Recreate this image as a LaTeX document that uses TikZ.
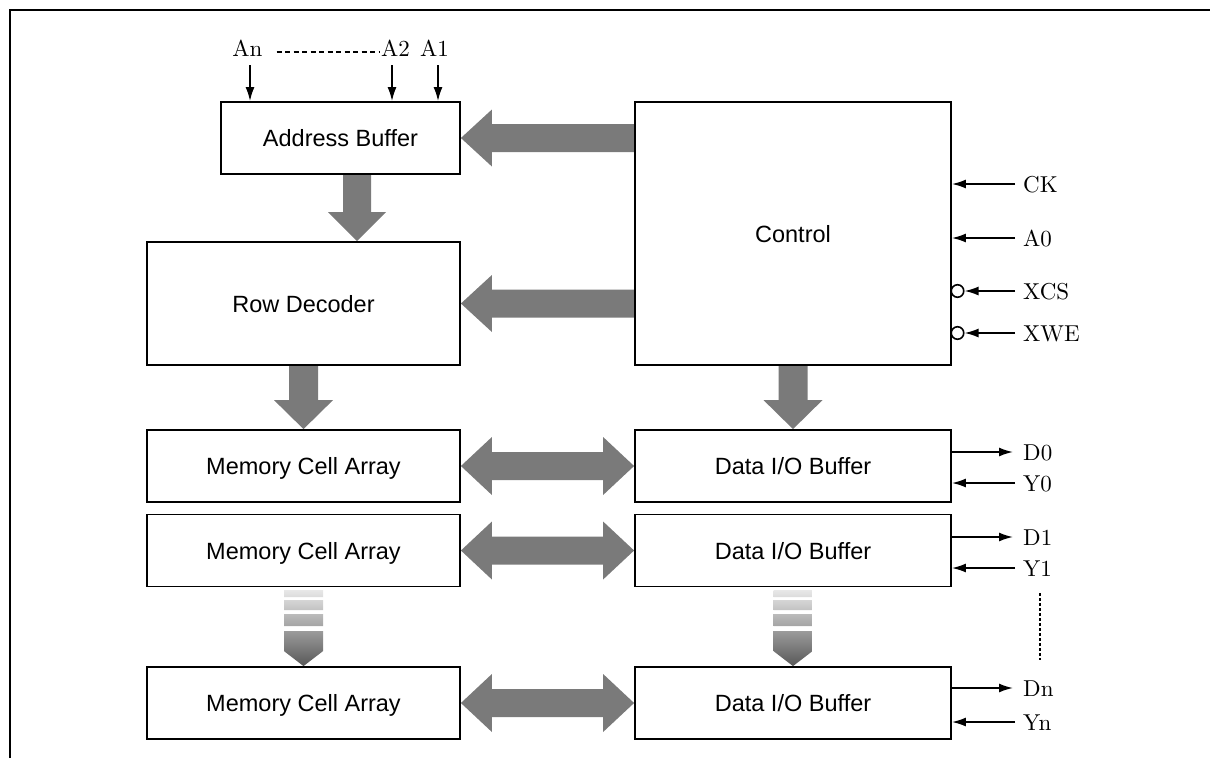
\documentclass[tikz,border=0pt]{standalone}
\usepackage{fontspec}
\setsansfont{Liberation Sans}
\newfontfamily\sigfont{lmroman10-regular.otf}
\usetikzlibrary{arrows.meta,calc,backgrounds}
\definecolor{bigarrowgray}{RGB}{122,122,122}
\definecolor{gradtop}{RGB}{232,232,232}
\definecolor{gradbot}{RGB}{88,88,88}
\begin{document}
\begin{tikzpicture}[x=1pt,y=-1pt,
  box/.style={draw, line width=1.8pt, inner sep=0pt, fill=white,
    font=\sffamily\fontsize{23.5}{28}\selectfont, text height=17pt, text depth=0pt},
  sig/.style={font=\sigfont\fontsize{23}{27}\selectfont, inner sep=0pt, text height=16pt, text depth=0pt},
  wire/.style={line width=1.7pt, -{Latex[length=14pt,width=9pt]}},
  bigarrow/.style={fill=bigarrowgray},
  gradarrow/.style={top color=gradtop, bottom color=gradbot},
  bubble/.style={draw, circle, line width=1.6pt, inner sep=0pt, minimum size=12.5pt},
  dotline/.style={line width=1.4pt, dash pattern=on 3pt off 2pt},
]
\useasboundingbox (0,0) rectangle (1210,758);
% frame
\draw[line width=2pt] (10,758) -- (10,10) -- (1210,10);

% boxes
\node[box, minimum width=239pt, minimum height=72pt] (ab) at (340.5,138) {Address Buffer};
\node[box, minimum width=313pt, minimum height=123pt] (rd) at (303.5,303.5) {Row Decoder};
\node[box, minimum width=316pt, minimum height=263pt] (ctl) at (793,233.5) {Control};
\node[box, minimum width=313pt, minimum height=72pt] (m1) at (303.5,466) {Memory Cell Array};
\node[box, minimum width=316pt, minimum height=72pt] (d1) at (793,466) {Data I/O Buffer};
\node[box, minimum width=313pt, minimum height=72pt] (m2) at (303.5,550.5) {Memory Cell Array};
\node[box, minimum width=316pt, minimum height=72pt] (d2) at (793,550.5) {Data I/O Buffer};
\node[box, minimum width=313pt, minimum height=72pt] (m3) at (303.5,703) {Memory Cell Array};
\node[box, minimum width=316pt, minimum height=72pt] (d3) at (793,703) {Data I/O Buffer};

\begin{scope}[on background layer]
% Control -> Address Buffer
\fill[bigarrow] (ab.east) -- ($(ab.east)+(31,-28.5)$) -- ($(ab.east)+(31,-14)$)
  -- ($(ctl.west |- ab.east)+(0,-14)$) -- ($(ctl.west |- ab.east)+(0,14)$)
  -- ($(ab.east)+(31,14)$) -- ($(ab.east)+(31,28.5)$) -- cycle;
% Control -> Row Decoder
\fill[bigarrow] (rd.east) -- ($(rd.east)+(31,-28.5)$) -- ($(rd.east)+(31,-14)$)
  -- ($(ctl.west |- rd.east)+(0,-14)$) -- ($(ctl.west |- rd.east)+(0,14)$)
  -- ($(rd.east)+(31,14)$) -- ($(rd.east)+(31,28.5)$) -- cycle;
% Address Buffer -> Row Decoder
\coordinate (abrd) at (357,0);
\fill[bigarrow] (abrd |- rd.north) -- ($(abrd |- rd.north)+(-29,-29)$) -- ($(abrd |- rd.north)+(-14,-29)$)
  -- ($(abrd |- ab.south)+(-14,0)$) -- ($(abrd |- ab.south)+(14,0)$)
  -- ($(abrd |- rd.north)+(14,-29)$) -- ($(abrd |- rd.north)+(29,-29)$) -- cycle;
% Row Decoder -> Memory Cell Array
\fill[bigarrow] (m1.north) -- ($(m1.north)+(-29.5,-29)$) -- ($(m1.north)+(-14.5,-29)$)
  -- ($(rd.south)+(-14.5,0)$) -- ($(rd.south)+(14.5,0)$)
  -- ($(m1.north)+(14.5,-29)$) -- ($(m1.north)+(29.5,-29)$) -- cycle;
% Control -> Data I/O Buffer
\fill[bigarrow] (d1.north) -- ($(d1.north)+(-29.5,-29)$) -- ($(d1.north)+(-14.5,-29)$)
  -- ($(ctl.south)+(-14.5,0)$) -- ($(ctl.south)+(14.5,0)$)
  -- ($(d1.north)+(14.5,-29)$) -- ($(d1.north)+(29.5,-29)$) -- cycle;
% double arrows
\foreach \m/\d in {m1/d1, m2/d2, m3/d3}{
  \fill[bigarrow] (\m.east) -- ($(\m.east)+(31,-29)$) -- ($(\m.east)+(31,-14)$)
    -- ($(\d.west)+(-31,-14)$) -- ($(\d.west)+(-31,-29)$) -- (\d.west)
    -- ($(\d.west)+(-31,29)$) -- ($(\d.west)+(-31,14)$)
    -- ($(\m.east)+(31,14)$) -- ($(\m.east)+(31,29)$) -- cycle;
}
% fading arrows
\foreach \b in {m3, d3}{
  \shade[gradarrow]
    ($(\b.north)+(-19.5,-76)$) rectangle ($(\b.north)+(19.5,-69)$)
    ($(\b.north)+(-19.5,-66)$) rectangle ($(\b.north)+(19.5,-56)$)
    ($(\b.north)+(-19.5,-52)$) rectangle ($(\b.north)+(19.5,-40)$)
    ($(\b.north)+(-19.5,-35)$) -- ($(\b.north)+(19.5,-35)$) -- ($(\b.north)+(19.5,-15)$)
    -- (\b.north) -- ($(\b.north)+(-19.5,-15)$) -- cycle;
}
\end{scope}

% address inputs
\node[sig] (an) at (247.5,48) {An};
\node[sig] (a2) at (395.5,48) {A2};
\node[sig] (a1) at (434.5,48) {A1};
\draw[line width=1.4pt, dash pattern=on 5pt off 3.5pt] ($(an.east)+(14,4)$) -- ($(a2.west)+(-1,4)$);
\coordinate (anin) at (250,65);
\coordinate (a2in) at (392,65);
\coordinate (a1in) at (438,65);
\draw[wire] (anin) -- (anin |- ab.north);
\draw[wire] (a2in) -- (a2in |- ab.north);
\draw[wire] (a1in) -- (a1in |- ab.north);

% control inputs
\node[sig, anchor=west] (ck) at (1023,184) {CK};
\node[sig, anchor=west] (a0) at (1023,238) {A0};
\node[sig, anchor=west] (xcs) at (1023,291) {XCS};
\node[sig, anchor=west] (xwe) at (1023,333) {XWE};
\draw[wire] ([xshift=-8pt]ck.west) -- (ck -| ctl.east);
\draw[wire] ([xshift=-8pt]a0.west) -- (a0 -| ctl.east);
\node[bubble] (xcsb) at (957.5,291) {};
\node[bubble] (xweb) at (957.5,333) {};
\draw[wire] ([xshift=-8pt]xcs.west) -- (xcsb.east);
\draw[wire] ([xshift=-8pt]xwe.west) -- (xweb.east);

% data outputs / inputs
\node[sig, anchor=west] (dz) at (1023,452) {D0};
\node[sig, anchor=west] (yz) at (1023,483) {Y0};
\node[sig, anchor=west] (done) at (1023,537) {D1};
\node[sig, anchor=west] (yone) at (1023,568) {Y1};
\node[sig, anchor=west] (dn) at (1023,688) {Dn};
\node[sig, anchor=west] (yn) at (1023,722) {Yn};
\draw[wire] (dz -| d1.east) -- ([xshift=-10pt]dz.west);
\draw[wire] ([xshift=-8pt]yz.west) -- (yz -| d1.east);
\draw[wire] (done -| d2.east) -- ([xshift=-10pt]done.west);
\draw[wire] ([xshift=-8pt]yone.west) -- (yone -| d2.east);
\draw[wire] (dn -| d3.east) -- ([xshift=-10pt]dn.west);
\draw[wire] ([xshift=-8pt]yn.west) -- (yn -| d3.east);
\draw[dotline] (1040,593) -- (1040,660);
\end{tikzpicture}
\end{document}
